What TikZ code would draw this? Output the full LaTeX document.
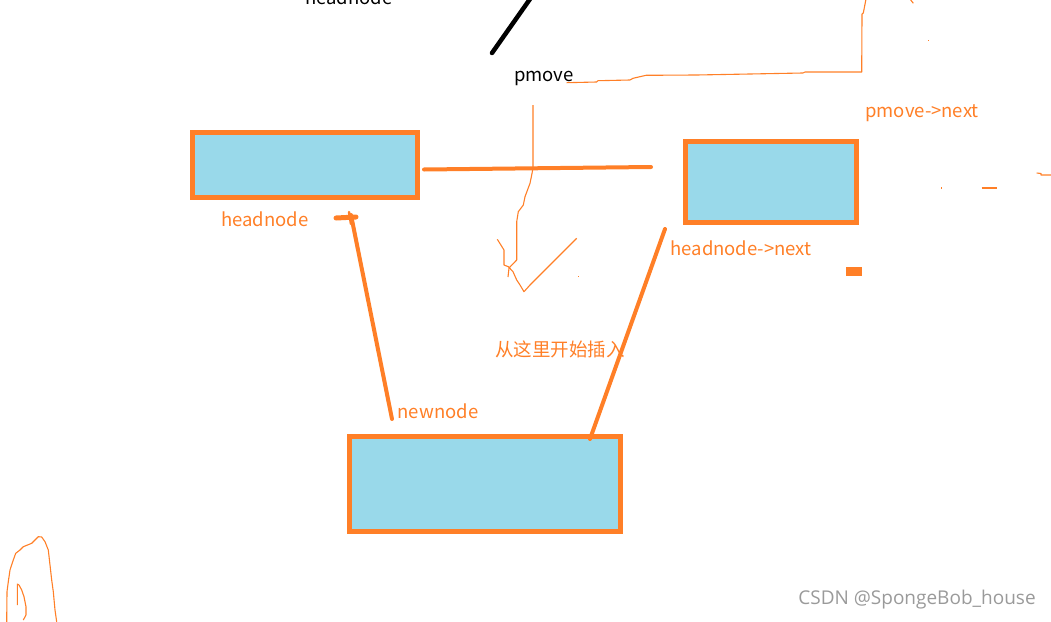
\documentclass[tikz,border=0pt]{standalone}
\usepackage{fontspec}
\setmainfont{Noto Sans CJK SC}
\newfontfamily\wmfont{Open Sans}
\definecolor{po}{HTML}{FF7F27}
\definecolor{pb}{HTML}{99D9EA}
\definecolor{wm}{HTML}{9A9A9A}
\begin{document}
\begin{tikzpicture}[x=1pt,y=-1pt,
  nodebox/.style={draw=po,fill=pb,line width=5pt,inner sep=0pt,outer sep=0pt,anchor=north west},
  lbl/.style={text=po,font=\fontsize{18.5}{22}\selectfont,inner sep=0pt},
  blbl/.style={text=black,font=\fontsize{18.5}{22}\selectfont,inner sep=0pt},
  thick stroke/.style={draw=po,line width=4pt,line cap=round},
  thin stroke/.style={draw=po,line width=1.1pt,line join=round}]
\useasboundingbox (0,0) rectangle (1051,621);
% boxes
\node[nodebox,minimum width=225pt,minimum height=65pt] (head) at (192.5,132.5) {};
\node[nodebox,minimum width=171pt,minimum height=81pt] (next) at (685.5,141.5) {};
\node[nodebox,minimum width=270.5pt,minimum height=95pt] (new) at (349.5,436.5) {};
% labels
\node[lbl] (lhead) at (265,219) {headnode};
\node[lbl] (lnext) at (741,248) {headnode->next};
\node[lbl] (lpnext) at (922,113) {pmove->next};
\node[lbl] (lnew) at (438,411) {newnode};
\node[lbl] (lcn) at (560,349) {从这里开始插入};
\node[blbl] (lpmove) at (544,78) {pmove};
\node[blbl,anchor=base] (ltop) at (349,5) {headnode};
\node[text=wm,font=\wmfont\fontsize{19}{22}\selectfont,inner sep=0pt] (wmk) at (917,600) {CSDN @SpongeBob\_house};
% connector coordinates
\coordinate (h1) at (424,169.5);
\coordinate (h2) at (651,167);
\coordinate (n1) at (392,419);
\coordinate (n2) at (351,215);
\coordinate (m1) at (665,229);
\coordinate (m2) at (590,439);
\coordinate (k1) at (492,53);
\coordinate (k2) at (530,-1);
% thick strokes
\draw[thick stroke] (h1) -- (h2);
\draw[thick stroke] (n1) -- (n2);
\draw[thick stroke] (m1) -- (m2);
\draw[line width=4.5pt,line cap=round] (k1) -- (k2);
\draw[thick stroke,line width=5pt] (336,218) -- (356,217);
\draw[thick stroke,line width=2.5pt] (349,212) -- (351,224);
\fill[po] (846,267) rectangle (862,275.5);
% thin hand strokes
\draw[thin stroke] (533,105) -- (533,168) -- (531.7,175) -- (530,183.3) -- (525,196.7) -- (523.3,205) -- (518.3,211.7) -- (516.7,221.7) -- (516.7,260) -- (509,268) -- (508,277);
\draw[thin stroke] (497.3,239.3) -- (504,250) -- (504,265) -- (508.3,266.7) -- (513,271.7) -- (516.7,280) -- (520,285) -- (524,291.7) -- (530,285) -- (576.7,238.3);
\fill[po] (577.5,275.5) rectangle (579,277);
\draw[thin stroke] (566.7,82.7) -- (596.7,82) -- (598,80.7) -- (630,80) -- (633,78.3) -- (646,75.3) -- (696.7,75) -- (803,73) -- (805,72) -- (861.7,72) -- (862,14) -- (863.3,13) -- (866,-1);
\draw[thin stroke] (910,-1) -- (913.3,3.3);
\fill[po] (928,39.5) rectangle (929.3,41);
\draw[thin stroke] (1036.7,173) -- (1041,173.5) -- (1041,175) -- (1052,175);
\draw[thin stroke] (981.7,188) -- (996.7,188);
\fill[po] (941,187.3) rectangle (942.3,188.7);
\draw[thin stroke] (6.7,622) -- (7,591.7) -- (8.3,581.7) -- (10,570) -- (13.3,560) -- (15.7,553.3) -- (20,550) -- (23.3,546.7) -- (31.7,543.3) -- (35,540) -- (38.3,536.7) -- (41.7,537) -- (45,541.7) -- (48.3,550) -- (50,565) -- (51.7,580) -- (53.3,591.7) -- (55,610) -- (56.7,622);
\draw[thin stroke] (17.3,605) -- (17.3,584) -- (19,585) -- (21.7,590) -- (24,596.7) -- (26,606.7) -- (26,615) -- (23.3,620);
\end{tikzpicture}
\end{document}
